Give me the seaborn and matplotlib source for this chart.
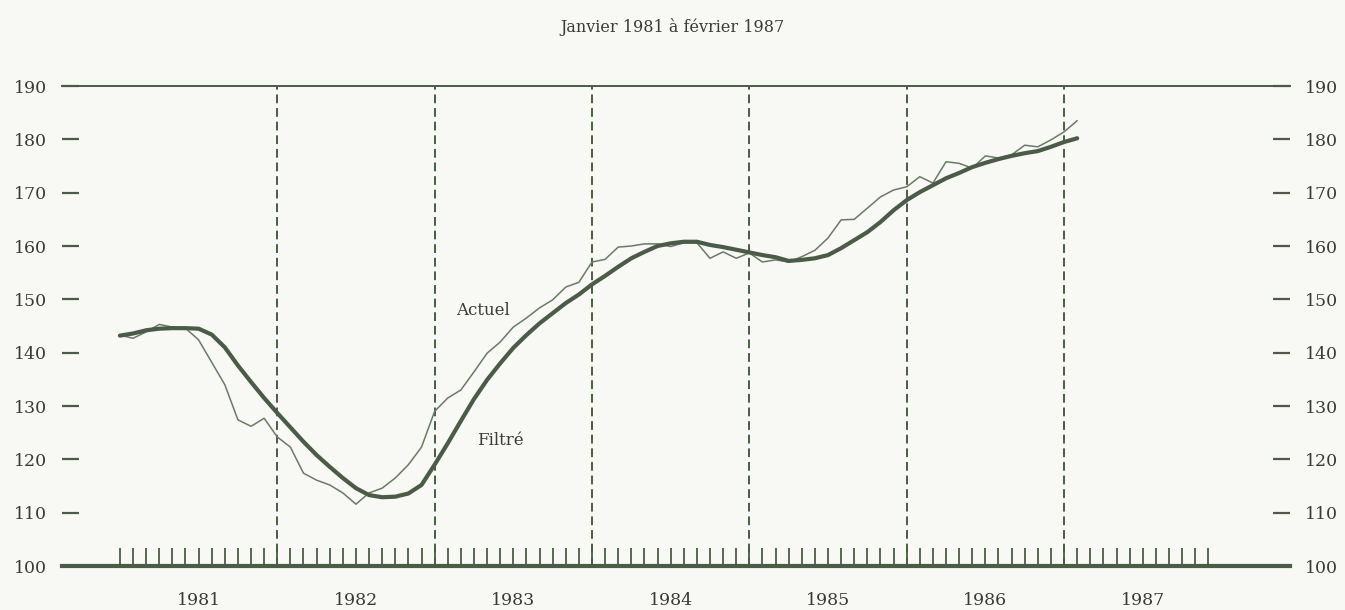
import numpy as np
import pandas as pd
import matplotlib
matplotlib.use("Agg")
import matplotlib.pyplot as plt
import seaborn as sns

# monthly values, Jan 1981 -> Feb 1987
actuel = [143.3, 142.7, 143.9, 145.3, 144.8, 144.6, 142.4, 138.2, 134.0, 127.4, 126.2, 127.7,
          124.2, 122.3, 117.4, 116.1, 115.2, 113.7, 111.6, 113.7, 114.6, 116.5, 119.0, 122.3,
          129.0, 131.5, 133.0, 136.4, 139.9, 142.0, 144.8, 146.5, 148.4, 149.9, 152.3, 153.2,
          157.0, 157.5, 159.8, 160.0, 160.4, 160.4, 159.9, 160.6, 160.6, 157.7, 158.9, 157.7,
          158.7, 157.0, 157.4, 157.0, 158.0, 159.2, 161.5, 164.9, 165.0, 167.1, 169.2, 170.5,
          171.1, 173.0, 171.8, 175.8, 175.5, 174.6, 176.9, 176.5, 177.1, 178.9, 178.6, 179.9,
          181.4, 183.5]
filtre = [143.2, 143.6, 144.2, 144.5, 144.6, 144.6, 144.5, 143.4, 141.0, 137.6, 134.5, 131.5,
          128.7, 126.0, 123.3, 120.8, 118.6, 116.5, 114.6, 113.3, 112.9, 113.0, 113.6, 115.2,
          119.0, 123.0, 127.2, 131.3, 134.9, 138.0, 140.9, 143.3, 145.5, 147.4, 149.3, 150.9,
          152.8, 154.4, 156.1, 157.7, 158.9, 160.0, 160.5, 160.8, 160.8, 160.2, 159.8, 159.3,
          158.8, 158.3, 157.9, 157.2, 157.4, 157.7, 158.3, 159.6, 161.1, 162.6, 164.5, 166.7,
          168.6, 170.1, 171.4, 172.7, 173.7, 174.8, 175.6, 176.3, 176.9, 177.4, 177.8, 178.6,
          179.5, 180.2]
annees = [1981, 1982, 1983, 1984, 1985, 1986, 1987]
y_ticks = [100, 110, 120, 130, 140, 150, 160, 170, 180, 190]

mois = 1981 + np.arange(len(actuel)) / 12
df = pd.DataFrame({"date": mois, "Actuel": actuel, "Filtré": filtre})

sns.set_theme(style="white")
plt.rcParams["font.family"] = ["DejaVu Serif"]

ink = "#4c5b48"
txt = "#3a3a36"
bg = "#f8f8f5"

fig = plt.figure(figsize=(13.45, 6.1), dpi=100, facecolor=bg)
ax = fig.add_axes([0.0461, 0.0721, 0.9129, 0.7869], facecolor=bg)

sns.lineplot(data=df, x="date", y="Actuel", ax=ax, color="#6b7a67", linewidth=1.1)
sns.lineplot(data=df, x="date", y="Filtré", ax=ax, color=ink, linewidth=3.0)

# dashed year separators
for a in annees[1:]:
    ax.axvline(a, color=ink, linewidth=1.4, linestyle=(0, (4.5, 2.5)), zorder=1)

ax.set_xlim(1980.632, 1988.435)
ax.set_ylim(100, 190)

# month ticks along the bottom, year labels centered in each year
ax.set_xticks(1981 + np.arange(84) / 12)
ax.set_xticklabels([])
ax.set_xticks([a + 0.5 for a in annees], minor=True)
ax.set_xticklabels([str(a) for a in annees], minor=True)
ax.xaxis.remove_overlapping_locs = False
ax.tick_params(axis="x", which="major", direction="in", length=13, width=1.3,
               color=ink, bottom=True)
ax.tick_params(axis="x", which="minor", length=0, pad=19, labelsize=12.5,
               labelcolor=txt, bottom=True)

ax.set_yticks(y_ticks)
ax.set_yticklabels([str(v) for v in y_ticks])
ax.tick_params(axis="y", direction="in", length=12, width=1.6, color=ink,
               left=True, right=True, labelleft=True, labelright=True,
               pad=11, labelsize=12.5, labelcolor=txt)

ax.set_xlabel("")
ax.set_ylabel("")

for s in ["left", "right"]:
    ax.spines[s].set_visible(False)
ax.spines["top"].set_color(ink)
ax.spines["top"].set_linewidth(1.4)
ax.spines["bottom"].set_color(ink)
ax.spines["bottom"].set_linewidth(3.0)

ax.text(1983.31, 148, "Actuel", ha="center", va="center", fontsize=12, color=txt)
ax.text(1983.42, 123.6, "Filtré", ha="center", va="center", fontsize=12, color=txt)

fig.text(0.5, 0.956, "Janvier 1981 à février 1987", ha="center", va="center",
         fontsize=11.5, color=txt)

fig.savefig("out.png", dpi=100, facecolor=bg)
